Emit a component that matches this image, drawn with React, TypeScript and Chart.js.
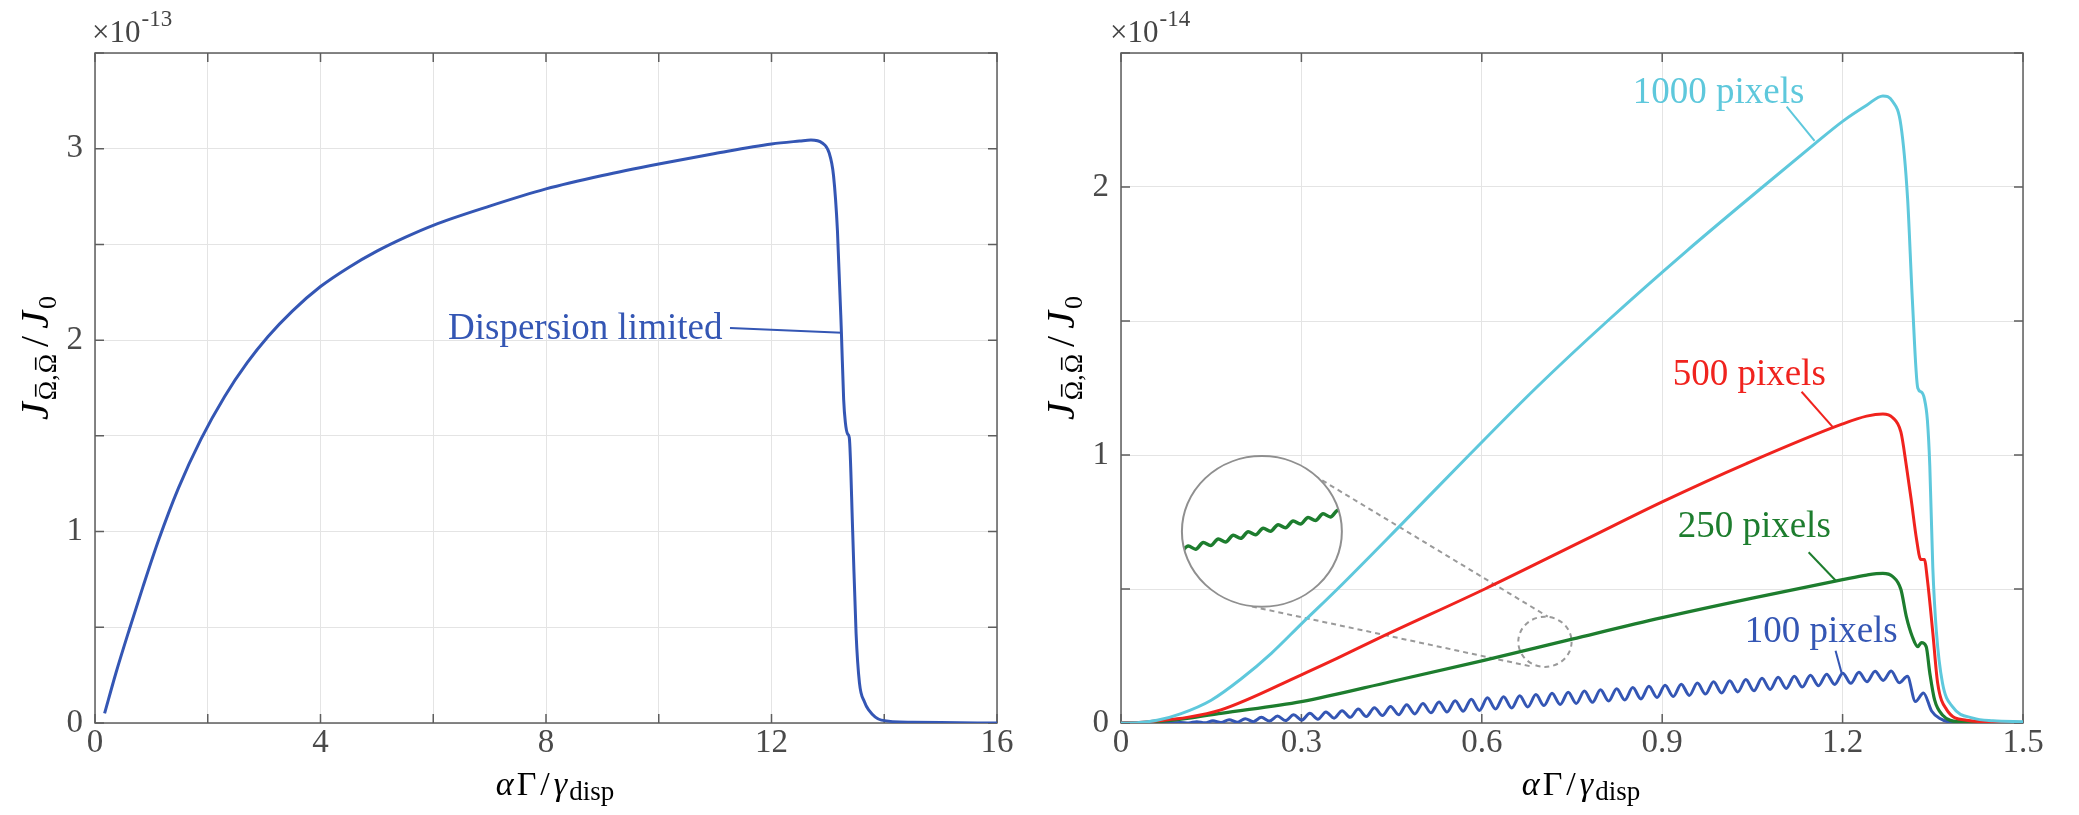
import { useEffect, useRef } from 'react';
import { Chart, registerables } from 'chart.js';

Chart.register(...registerables);

const SERIF = '"Liberation Serif", "DejaVu Serif", serif';
const TICK_COLOR = '#4a4a4a';
const AXIS_COLOR = '#5e5e5e';
const GRID_COLOR = '#e4e4e4';
const BLUE = '#3456b4';
const CYAN = '#5ec8dc';
const RED = '#f0231e';
const GREEN = '#1d7d2e';
const ZOOM_GRAY = '#8f8f8f';

// ---------- Left panel: dispersion limited ----------
const leftXTickLabels = [0, 4, 8, 12, 16];
const leftYTickLabels = [0, 1, 2, 3];
const dispX = [0.17, 0.37, 0.61, 0.85, 1.13, 1.48, 1.88, 2.3, 2.7, 3.07, 3.5, 4.0, 4.5, 5.0, 5.5, 6.0, 7.0, 8.0, 9.0, 10.0, 11.0, 12.0, 12.5, 12.7, 12.9, 13.02, 13.1, 13.17, 13.24, 13.28, 13.31, 13.35, 13.38, 13.44, 13.5, 13.56, 13.65, 13.72, 13.95, 14.5, 15.0, 16.0];
const dispY = [0.05, 0.26, 0.49, 0.711, 0.957, 1.227, 1.483, 1.706, 1.882, 2.019, 2.152, 2.28, 2.38, 2.465, 2.537, 2.6, 2.7, 2.79, 2.86, 2.92, 2.975, 3.025, 3.04, 3.045, 3.03, 2.98, 2.86, 2.57, 2.04, 1.69, 1.57, 1.51, 1.49, 1.0, 0.47, 0.21, 0.11, 0.07, 0.015, 0.004, 0.002, 0.0];

// ---------- Right panel: pixel counts ----------
const rightXTickLabels = ['0', '0.3', '0.6', '0.9', '1.2', '1.5'];
const rightYTickLabels = [0, 1, 2];

const px1000X = [0, 0.03, 0.06, 0.1, 0.15, 0.2, 0.25, 0.3, 0.36, 0.468, 0.579, 0.69, 0.809, 0.94, 1.067, 1.153, 1.2, 1.24, 1.267, 1.283, 1.297, 1.308, 1.316, 1.325, 1.331, 1.336, 1.341, 1.345, 1.35, 1.356, 1.366, 1.383, 1.417, 1.45, 1.5];
const px1000Y = [0, 0.002, 0.01, 0.035, 0.085, 0.165, 0.26, 0.37, 0.5, 0.745, 1.0, 1.25, 1.5, 1.76, 2.0, 2.16, 2.245, 2.305, 2.34, 2.32, 2.23, 1.96, 1.58, 1.25, 1.235, 1.21, 1.13, 0.96, 0.58, 0.34, 0.15, 0.06, 0.018, 0.008, 0.005];

const px500X = [0, 0.03, 0.06, 0.11, 0.166, 0.3, 0.36, 0.435, 0.605, 0.773, 0.9, 1.04, 1.2, 1.24, 1.267, 1.283, 1.297, 1.306, 1.314, 1.323, 1.33, 1.336, 1.341, 1.35, 1.358, 1.373, 1.406, 1.45, 1.5];
const px500Y = [0, 0.002, 0.008, 0.021, 0.049, 0.18, 0.242, 0.323, 0.5, 0.685, 0.825, 0.968, 1.116, 1.145, 1.153, 1.14, 1.085, 0.96, 0.835, 0.685, 0.61, 0.61, 0.535, 0.337, 0.15, 0.05, 0.01, 0.004, 0.002];

const px250X = [0, 0.03, 0.06, 0.11, 0.166, 0.3, 0.45, 0.6, 0.75, 0.9, 1.05, 1.2, 1.24, 1.267, 1.283, 1.297, 1.306, 1.316, 1.325, 1.331, 1.339, 1.345, 1.353, 1.366, 1.395, 1.45, 1.5];
const px250Y = [0, 0.001, 0.005, 0.017, 0.036, 0.08, 0.155, 0.232, 0.313, 0.393, 0.466, 0.535, 0.552, 0.558, 0.547, 0.498, 0.397, 0.322, 0.285, 0.30, 0.285, 0.187, 0.086, 0.03, 0.005, 0.002, 0.001];

const px100X = [
  0, 0.06,
  0.0991, 0.1125, 0.1260, 0.1394, 0.1528, 0.1663, 0.1797, 0.1931, 0.2065, 0.2200,
  0.2334, 0.2468, 0.2603, 0.2737, 0.2871, 0.3005, 0.3140, 0.3274, 0.3408, 0.3543,
  0.3677, 0.3811, 0.3945, 0.4080, 0.4214, 0.4348, 0.4482, 0.4617, 0.4751, 0.4885,
  0.5020, 0.5154, 0.5288, 0.5422, 0.5557, 0.5691, 0.5825, 0.5960, 0.6094, 0.6228,
  0.6362, 0.6497, 0.6631, 0.6765, 0.6900, 0.7034, 0.7168, 0.7303, 0.7437, 0.7571,
  0.7706, 0.7840, 0.7974, 0.8109, 0.8243, 0.8377, 0.8511, 0.8646, 0.8780, 0.8914,
  0.9048, 0.9183, 0.9317, 0.9451, 0.9585, 0.9720, 0.9854, 0.9988, 1.0123, 1.0257,
  1.0391, 1.0525, 1.0660, 1.0794, 1.0928, 1.1063, 1.1197, 1.1331, 1.1465, 1.1600,
  1.1734, 1.1868, 1.2002, 1.2137, 1.2271, 1.2405, 1.2540, 1.2674, 1.2808, 1.2943,
  1.3077, 1.3211, 1.3345, 1.3480,
  1.3610, 1.3830, 1.4100, 1.4500, 1.5000,
];
const px100Y = [
  0, 0,
  0.002, 0.000, 0.005, 0.001, 0.008, 0.002, 0.012, 0.003, 0.016, 0.005,
  0.021, 0.007, 0.026, 0.009, 0.031, 0.011, 0.036, 0.014, 0.041, 0.018,
  0.046, 0.021, 0.052, 0.024, 0.057, 0.028, 0.062, 0.031, 0.068, 0.034,
  0.073, 0.038, 0.078, 0.041, 0.083, 0.044, 0.089, 0.047, 0.094, 0.052,
  0.098, 0.056, 0.102, 0.060, 0.106, 0.065, 0.111, 0.069, 0.115, 0.073,
  0.119, 0.077, 0.124, 0.082, 0.128, 0.086, 0.132, 0.090, 0.137, 0.095,
  0.141, 0.099, 0.145, 0.103, 0.149, 0.108, 0.154, 0.112, 0.158, 0.116,
  0.162, 0.120, 0.167, 0.125, 0.171, 0.129, 0.174, 0.134, 0.178, 0.139,
  0.182, 0.144, 0.186, 0.148, 0.189, 0.154, 0.193, 0.159, 0.194, 0.150,
  0.174, 0.080, 0.112, 0.045,
  0.018, 0.002, 0, 0, 0,
];

// magnified 250-pixel ripple shown inside the circular inset
const insetX = [0.6600, 0.6642, 0.6683, 0.6725, 0.6766, 0.6808, 0.6849, 0.6891, 0.6932, 0.6974, 0.7015, 0.7057, 0.7098, 0.7140, 0.7181, 0.7223, 0.7264, 0.7306, 0.7347, 0.7389, 0.7430, 0.7472, 0.7513];
const insetY = [0.2764, 0.2847, 0.2809, 0.2891, 0.2854, 0.2936, 0.2898, 0.2981, 0.2943, 0.3025, 0.2987, 0.3070, 0.3032, 0.3114, 0.3076, 0.3159, 0.3121, 0.3203, 0.3166, 0.3248, 0.3210, 0.3293, 0.3255];

// ---------- helpers ----------
const pts = (xs: number[], ys: number[]) => xs.map((x, i) => ({ x, y: ys[i] }));
const TL = 9;

type Part = { t: string; font: string; dy?: number; gap?: number; bar?: boolean };

function partsWidth(ctx: CanvasRenderingContext2D, parts: Part[]) {
  let w = 0;
  for (const p of parts) {
    ctx.font = p.font;
    w += (p.gap || 0) + ctx.measureText(p.t).width;
  }
  return w;
}

function drawParts(ctx: CanvasRenderingContext2D, parts: Part[], x0: number, y0: number) {
  let x = x0;
  for (const p of parts) {
    ctx.font = p.font;
    x += p.gap || 0;
    const w = ctx.measureText(p.t).width;
    ctx.fillText(p.t, x, y0 + (p.dy || 0));
    if (p.bar) {
      const size = parseFloat(p.font.match(/(\d+)px/)![1]);
      const by = y0 + (p.dy || 0) - size * 0.78;
      ctx.save();
      ctx.lineWidth = 1.6;
      ctx.strokeStyle = ctx.fillStyle as string;
      ctx.beginPath();
      ctx.moveTo(x + w * 0.18, by);
      ctx.lineTo(x + w * 0.82, by);
      ctx.stroke();
      ctx.restore();
    }
    x += w;
  }
}

const yLabelParts: Part[] = [
  { t: 'J', font: `italic 40px ${SERIF}` },
  { t: 'Ω', font: `26px ${SERIF}`, dy: 8, gap: 2, bar: true },
  { t: ',', font: `26px ${SERIF}`, dy: 8 },
  { t: 'Ω', font: `26px ${SERIF}`, dy: 8, gap: 1, bar: true },
  { t: '/', font: `40px ${SERIF}`, gap: 7 },
  { t: 'J', font: `italic 40px ${SERIF}`, gap: 7 },
  { t: '0', font: `26px ${SERIF}`, dy: 8, gap: 2 },
];

const xLabelParts: Part[] = [
  { t: 'α', font: `italic 34px ${SERIF}` },
  { t: 'Γ', font: `34px ${SERIF}`, gap: 3 },
  { t: '/', font: `34px ${SERIF}`, gap: 4 },
  { t: 'γ', font: `italic 34px ${SERIF}`, gap: 4 },
  { t: 'disp', font: `27px ${SERIF}`, dy: 5, gap: 2 },
];

type Ann = { text: string; x: number; y: number; color: string };
type Leader = { x1: number; y1: number; x2: number; y2: number; color: string };
type Zoom = { cx: number; cy: number; rx: number; ry: number; sx: number; sy: number; mag: number; lines: number[][]; insetIndex: number };
type Decor = { exponent: string; expOffset: number; annotations: Ann[]; leaders: Leader[]; zoom?: Zoom };

function bigEllipse(chart: any, z: Zoom) {
  const sx = chart.scales.x, sy = chart.scales.y;
  const cx = sx.getPixelForValue(z.cx), cy = sy.getPixelForValue(z.cy);
  return {
    cx, cy,
    rx: Math.abs(sx.getPixelForValue(z.cx + z.rx) - cx),
    ry: Math.abs(sy.getPixelForValue(z.cy + z.ry) - cy),
  };
}

function makeDecor(d: Decor) {
  return {
    id: 'matlabDecor',
    beforeDatasetsDraw(chart: any) {
      const { ctx, chartArea: a } = chart;
      const sx = chart.scales.x, sy = chart.scales.y;
      ctx.save();
      ctx.strokeStyle = AXIS_COLOR;
      ctx.lineWidth = 1.5;
      ctx.beginPath();
      for (const t of sx.ticks) {
        const p = sx.getPixelForValue(t.value);
        ctx.moveTo(p, a.bottom); ctx.lineTo(p, a.bottom - TL);
        ctx.moveTo(p, a.top); ctx.lineTo(p, a.top + TL);
      }
      for (const t of sy.ticks) {
        const p = sy.getPixelForValue(t.value);
        ctx.moveTo(a.left, p); ctx.lineTo(a.left + TL, p);
        ctx.moveTo(a.right, p); ctx.lineTo(a.right - TL, p);
      }
      ctx.stroke();
      ctx.strokeRect(a.left, a.top, a.right - a.left, a.bottom - a.top);
      if (d.zoom) {
        const z = d.zoom;
        ctx.strokeStyle = '#9a9a9a';
        ctx.lineWidth = 2;
        ctx.setLineDash([5, 4]);
        ctx.beginPath();
        for (const l of z.lines) {
          ctx.moveTo(sx.getPixelForValue(l[0]), sy.getPixelForValue(l[1]));
          ctx.lineTo(sx.getPixelForValue(l[2]), sy.getPixelForValue(l[3]));
        }
        ctx.stroke();
        const scx = sx.getPixelForValue(z.sx), scy = sy.getPixelForValue(z.sy);
        const srx = Math.abs(sx.getPixelForValue(z.sx + z.rx / z.mag) - scx);
        const sry = Math.abs(sy.getPixelForValue(z.sy + z.ry / z.mag) - scy);
        ctx.beginPath();
        ctx.ellipse(scx, scy, srx, sry, 0, 0, Math.PI * 2);
        ctx.stroke();
        ctx.setLineDash([]);
      }
      ctx.restore();
    },
    beforeDatasetDraw(chart: any, args: any) {
      if (!d.zoom || args.index !== d.zoom.insetIndex) return;
      const { ctx } = chart;
      const e = bigEllipse(chart, d.zoom);
      ctx.save();
      ctx.beginPath();
      ctx.ellipse(e.cx, e.cy, e.rx, e.ry, 0, 0, Math.PI * 2);
      ctx.fillStyle = '#ffffff';
      ctx.fill();
      ctx.clip();
    },
    afterDatasetDraw(chart: any, args: any) {
      if (!d.zoom || args.index !== d.zoom.insetIndex) return;
      const { ctx } = chart;
      ctx.restore();
      const e = bigEllipse(chart, d.zoom);
      ctx.save();
      ctx.strokeStyle = ZOOM_GRAY;
      ctx.lineWidth = 2;
      ctx.beginPath();
      ctx.ellipse(e.cx, e.cy, e.rx, e.ry, 0, 0, Math.PI * 2);
      ctx.stroke();
      ctx.restore();
    },
    afterDatasetsDraw(chart: any) {
      const { ctx, chartArea: a } = chart;
      const sx = chart.scales.x, sy = chart.scales.y;
      ctx.save();
      ctx.lineWidth = 2;
      for (const l of d.leaders) {
        ctx.strokeStyle = l.color;
        ctx.beginPath();
        ctx.moveTo(sx.getPixelForValue(l.x1), sy.getPixelForValue(l.y1));
        ctx.lineTo(sx.getPixelForValue(l.x2), sy.getPixelForValue(l.y2));
        ctx.stroke();
      }
      ctx.font = `37px ${SERIF}`;
      ctx.textBaseline = 'alphabetic';
      ctx.textAlign = 'left';
      for (const t of d.annotations) {
        ctx.fillStyle = t.color;
        ctx.fillText(t.text, sx.getPixelForValue(t.x), sy.getPixelForValue(t.y));
      }
      ctx.fillStyle = '#444444';
      const ex = a.left + d.expOffset;
      ctx.font = `31px ${SERIF}`;
      ctx.fillText('×10', ex, a.top - 11);
      const w10 = ctx.measureText('×10').width;
      ctx.font = `23px ${SERIF}`;
      ctx.fillText(d.exponent, ex + w10 + 1, a.top - 27);
      ctx.fillStyle = '#000000';
      const xw = partsWidth(ctx, xLabelParts);
      drawParts(ctx, xLabelParts, a.left + 460 - xw / 2, a.bottom + 72);
      const yw = partsWidth(ctx, yLabelParts);
      const cy = a.top + 305;
      ctx.translate(a.left - 47, cy + yw / 2);
      ctx.rotate(-Math.PI / 2);
      drawParts(ctx, yLabelParts, 0, 0);
      ctx.restore();
    },
  };
}

const tickFont = { family: SERIF, size: 33, lineHeight: 1 };

function axisScales(o: any) {
  return {
    x: {
      type: 'linear', min: o.xMin, max: o.xMax,
      grid: { color: GRID_COLOR, lineWidth: 1, drawTicks: false },
      border: { display: false },
      ticks: { stepSize: o.xStep, autoSkip: false, maxRotation: 0, padding: 4, color: TICK_COLOR, font: tickFont, callback: o.xLabel },
      afterFit: (s: any) => { s.height = 92; },
    },
    y: {
      type: 'linear', min: o.yMin, max: o.yMax,
      grid: { color: GRID_COLOR, lineWidth: 1, drawTicks: false },
      border: { display: false },
      ticks: { stepSize: o.yStep, autoSkip: false, padding: 12, color: TICK_COLOR, font: tickFont, callback: o.yLabel },
      afterFit: (s: any) => { s.width = o.yWidth; },
    },
  };
}

const lineDs = (data: any, color: string, width = 3) => ({
  data, borderColor: color, backgroundColor: color, borderWidth: width,
  pointRadius: 0, fill: false, cubicInterpolationMode: 'monotone',
});

function leftConfig(): any {
  return {
    type: 'line',
    data: { datasets: [lineDs(pts(dispX, dispY), BLUE, 3)] },
    options: {
      animation: false, responsive: false, events: [],
      layout: { padding: { top: 53, right: 43, left: 0, bottom: 0 } },
      plugins: { legend: { display: false }, tooltip: { enabled: false } },
      scales: axisScales({
        xMin: 0, xMax: 16, xStep: 2, yMin: 0, yMax: 3.5, yStep: 0.5, yWidth: 95,
        xLabel: (v: number) => (leftXTickLabels.includes(v) ? String(v) : ''),
        yLabel: (v: number) => (leftYTickLabels.includes(v) ? String(v) : ''),
      }),
    },
    plugins: [makeDecor({
      exponent: '-13', expOffset: -3,
      annotations: [{ text: 'Dispersion limited', x: 6.262, y: 2.006, color: BLUE }],
      leaders: [{ x1: 11.264, y1: 2.064, x2: 13.25, y2: 2.038, color: BLUE }],
    })],
  };
}

const zoom: Zoom = {
  cx: 0.2343, cy: 0.715, rx: 0.133, ry: 0.281, sx: 0.705, sy: 0.303, mag: 3,
  lines: [[0.309, 0.940, 0.7097, 0.397], [0.2177, 0.4345, 0.6847, 0.2097]],
  insetIndex: 4,
};

function rightConfig(): any {
  const xMin = 0, xMax = 1.5, yMin = 0, yMax = 2.5;
  const scales: any = axisScales({
    xMin, xMax, xStep: 0.3, yMin, yMax, yStep: 0.5, yWidth: 81,
    xLabel: (v: number) => rightXTickLabels.find((s) => Math.abs(parseFloat(s) - v) < 1e-6) ?? '',
    yLabel: (v: number) => (rightYTickLabels.includes(v) ? String(v) : ''),
  });
  scales.xi = {
    type: 'linear', axis: 'x', display: false,
    min: zoom.sx + (xMin - zoom.cx) / zoom.mag, max: zoom.sx + (xMax - zoom.cx) / zoom.mag,
  };
  scales.yi = {
    type: 'linear', axis: 'y', display: false,
    min: zoom.sy + (yMin - zoom.cy) / zoom.mag, max: zoom.sy + (yMax - zoom.cy) / zoom.mag,
  };
  return {
    type: 'line',
    data: {
      datasets: [
        lineDs(pts(px1000X, px1000Y), CYAN, 3),
        lineDs(pts(px500X, px500Y), RED, 3),
        lineDs(pts(px250X, px250Y), GREEN, 3.2),
        lineDs(pts(px100X, px100Y), BLUE, 3),
        { ...lineDs(pts(insetX, insetY), GREEN, 3.5), xAxisID: 'xi', yAxisID: 'yi', order: -1, clip: false },
      ],
    },
    options: {
      animation: false, responsive: false, events: [],
      layout: { padding: { top: 53, right: 56, left: 0, bottom: 0 } },
      plugins: { legend: { display: false }, tooltip: { enabled: false } },
      scales,
    },
    plugins: [makeDecor({
      exponent: '-14', expOffset: -11,
      annotations: [
        { text: '1000 pixels', x: 0.851, y: 2.315, color: CYAN },
        { text: '500 pixels', x: 0.9174, y: 1.262, color: RED },
        { text: '250 pixels', x: 0.9257, y: 0.693, color: GREEN },
        { text: '100 pixels', x: 1.0371, y: 0.303, color: BLUE },
      ],
      leaders: [
        { x1: 1.107, y1: 2.30, x2: 1.1534, y2: 2.172, color: CYAN },
        { x1: 1.1318, y1: 1.236, x2: 1.1834, y2: 1.105, color: RED },
        { x1: 1.1435, y1: 0.637, x2: 1.19, y2: 0.528, color: GREEN },
        { x1: 1.1883, y1: 0.270, x2: 1.1983, y2: 0.187, color: BLUE },
      ],
      zoom,
    })],
  };
}

function Panel({ left, width, make }: { left: number; width: number; make: () => any }) {
  const ref = useRef<HTMLCanvasElement>(null);
  useEffect(() => {
    const chart = new Chart(ref.current as HTMLCanvasElement, make());
    return () => chart.destroy();
  }, []);
  return (
    <canvas
      ref={ref}
      width={width}
      height={815}
      style={{ position: 'absolute', left, top: 0, width, height: 815, display: 'block' }}
    />
  );
}

export default function App() {
  return (
    <div style={{ position: 'absolute', left: 0, top: 0, width: 2079, height: 815, background: '#ffffff', overflow: 'hidden' }}>
      <Panel left={0} width={1040} make={leftConfig} />
      <Panel left={1040} width={1039} make={rightConfig} />
    </div>
  );
}
